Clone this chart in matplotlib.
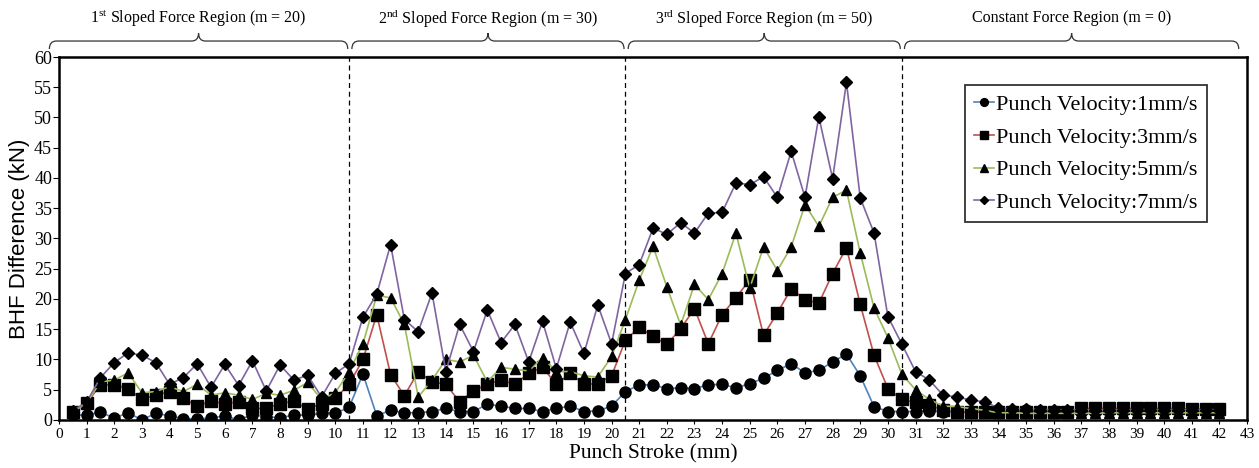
# -*- coding: utf-8 -*-
import matplotlib
matplotlib.use('Agg')
import matplotlib.pyplot as plt
import matplotlib.transforms as mtransforms
from matplotlib.path import Path
from matplotlib.patches import PathPatch
import numpy as np

plt.rcParams['font.family'] = ['Liberation Serif', 'DejaVu Serif']
plt.rcParams['mathtext.fontset'] = 'custom'
plt.rcParams['mathtext.rm'] = 'Liberation Serif'

# punch stroke (mm), sampled every 0.5 mm
stroke = np.arange(0.5, 42.01, 0.5)

v1 = [0.8, 0.8, 1.3, 0.3, 1.2, 0.0, 1.1, 0.7, 0.2, 0.2, 0.3, 0.7, 0.0, 0.9, 0.5, 0.4, 0.8, 0.8, 1.1, 1.1, 2.1,
      7.6, 0.7, 1.6, 1.2, 1.2, 1.4, 1.9, 1.4, 1.4, 2.6, 2.3, 1.9, 1.9, 1.4, 1.9, 2.3, 1.4, 1.5, 2.3, 4.7,
      5.8, 5.8, 5.2, 5.3, 5.2, 5.8, 5.9, 5.3, 6.0, 6.9, 8.2, 9.3, 7.8, 8.2, 9.6, 10.9, 7.3, 2.2, 1.4, 1.4,
      1.4, 1.5, 1.4, 1.3, 1.3, 1.3, 1.4, 1.5, 1.6, 1.5, 1.4, 1.4, 1.4, 1.4, 1.5, 1.5, 1.5, 1.5, 1.5, 1.7,
      1.5, 1.4, 1.4]
v3 = [1.3, 2.8, 5.8, 5.8, 5.2, 3.4, 4.1, 4.7, 3.6, 2.3, 3.1, 2.7, 3.0, 1.9, 1.9, 2.7, 3.1, 1.8, 2.7, 3.6, 5.9,
      10.0, 17.4, 7.5, 4.0, 8.0, 6.3, 5.9, 3.0, 4.8, 5.9, 6.6, 5.9, 7.7, 8.7, 5.9, 7.7, 5.9, 6.0, 7.3, 13.2,
      15.3, 13.8, 12.5, 15.1, 18.4, 12.6, 17.4, 20.2, 23.2, 14.0, 17.7, 21.7, 19.9, 19.3, 24.2, 28.5, 19.1,
      10.7, 5.2, 3.4,
      2.9, 2.5, 1.6, 1.3, 1.3, 1.3, 1.3, 1.4, 1.4, 1.4, 1.4, 1.4, 1.9, 1.9, 1.9, 1.9, 1.9, 1.9, 1.9, 1.9,
      1.8, 1.8, 1.8]
v5 = [1.3, 2.8, 6.3, 6.6, 7.8, 4.5, 4.7, 5.5, 4.7, 5.9, 4.1, 4.5, 4.1, 3.4, 4.4, 4.1, 4.9, 6.2, 3.4, 4.5, 8.0,
      12.6, 20.6, 20.2, 15.8, 3.8, 6.6, 10.0, 9.6, 10.7, 6.3, 8.7, 8.4, 8.1, 10.3, 8.0, 8.0, 7.3, 7.1, 10.5,
      16.6,
      23.1, 28.7, 22.0, 15.7, 22.4, 19.9, 24.2, 30.9, 21.8, 28.6, 24.7, 28.6, 35.6, 32.0, 36.8, 38.0, 27.6,
      18.5, 13.6, 7.6,
      5.0, 3.4, 2.3, 2.2, 1.9, 1.6, 1.2, 1.2, 1.1, 1.1, 1.1, 1.1, 1.1, 1.1, 1.2, 1.2, 1.2, 1.2, 1.2, 1.2,
      1.2, 1.2, 1.2]
v7 = [1.5, 3.0, 7.0, 9.5, 11.1, 10.7, 9.5, 5.9, 7.0, 9.3, 5.4, 9.2, 5.7, 9.8, 4.8, 9.1, 6.6, 7.4, 3.8, 7.7, 9.3,
      17.0, 20.8, 29.0, 16.6, 14.6, 21.0, 8.0, 15.8, 11.3, 18.2, 12.8, 15.8, 9.6, 16.3, 8.5, 16.2, 11.0, 19.0,
      12.6, 24.2,
      25.7, 31.7, 30.7, 32.6, 30.9, 34.2, 34.3, 39.2, 38.9, 40.2, 36.8, 44.4, 36.8, 50.1, 39.9, 55.8, 36.7,
      30.9, 17.1, 12.6,
      8.0, 6.6, 4.1, 3.8, 3.3, 3.0, 2.0, 1.8, 1.8, 1.7, 1.7, 1.7, 1.7, 1.7, 1.7, 1.7, 1.7, 1.7, 1.7, 1.7,
      1.7, 1.7, 1.7]

labels = ['Punch Velocity:1mm/s', 'Punch Velocity:3mm/s',
          'Punch Velocity:5mm/s', 'Punch Velocity:7mm/s']
region_bounds = [10.5, 20.5, 30.5]
region_texts = [r'1$^{\rm st}$ Sloped Force Region (m = 20)',
                r'2$^{\rm nd}$ Sloped Force Region (m = 30)',
                r'3$^{\rm rd}$ Sloped Force Region (m = 50)',
                'Constant Force Region (m = 0)']
brace_spans = [(-0.35, 10.45), (10.6, 20.45), (20.6, 30.45), (30.6, 42.7)]


def draw_brace(ax, x0, x1):
    # curly brace above the axes, x in data units, y in axes fraction
    trans = mtransforms.blended_transform_factory(ax.transData, ax.transAxes)
    yl, ye, yt = 1.044, 1.022, 1.066
    xm = (x0 + x1) / 2
    r = 0.25
    verts = [(x0, ye), (x0, yl), (x0 + r, yl),
             (xm - r, yl), (xm, yl), (xm, yt),
             (xm, yl), (xm + r, yl),
             (x1 - r, yl), (x1, yl), (x1, ye)]
    codes = [Path.MOVETO, Path.CURVE3, Path.CURVE3,
             Path.LINETO, Path.CURVE3, Path.CURVE3,
             Path.CURVE3, Path.CURVE3,
             Path.LINETO, Path.CURVE3, Path.CURVE3]
    ax.add_patch(PathPatch(Path(verts, codes), transform=trans, fill=False,
                           lw=0.9, color='#333333', clip_on=False))


fig = plt.figure(figsize=(12.59, 4.68), dpi=100)
ax = fig.add_axes([0.0469, 0.1026, 0.9436, 0.7756])

ax.plot(stroke, v1, color='#4f81bd', lw=1.2, marker='o', ms=8,
        mfc='black', mec='black', label=labels[0])
ax.plot(stroke, v3, color='#c0504d', lw=1.2, marker='s', ms=8,
        mfc='black', mec='black', label=labels[1])
ax.plot(stroke, v5, color='#9bbb59', lw=1.2, marker='^', ms=7.5,
        mfc='black', mec='black', label=labels[2])
ax.plot(stroke, v7, color='#8064a2', lw=1.2, marker='D', ms=6,
        mfc='black', mec='black', label=labels[3])

for xb in region_bounds:
    ax.axvline(xb, color='black', lw=0.9, ls=(0, (4, 3)))

for (x0, x1), txt in zip(brace_spans, region_texts):
    draw_brace(ax, x0, x1)
    ax.text((x0 + x1) / 2, 1.107, txt, transform=mtransforms.blended_transform_factory(ax.transData, ax.transAxes),
            ha='center', va='center', fontsize=11.5)

ax.set_xlim(0, 43)
ax.set_ylim(0, 60)
ax.set_xticks(np.arange(0, 44, 1))
ax.set_yticks(np.arange(0, 61, 5))
ax.tick_params(axis='x', labelsize=11, direction='out', length=3, pad=3)
ax.tick_params(axis='y', labelsize=13, direction='out', length=4, pad=1)
for s in ax.spines.values():
    s.set_linewidth(1.8)

ax.set_xlabel('Punch Stroke (mm)', fontsize=15.5, labelpad=2)
ax.set_ylabel('BHF Difference (kN)', fontsize=16, family='Liberation Sans', labelpad=3)

leg = ax.legend(loc='upper right', bbox_to_anchor=(0.966, 0.922), fontsize=16,
                frameon=True, fancybox=False, edgecolor='black', handlelength=0.9,
                handletextpad=0.1, borderpad=0.4, labelspacing=0.55, markerscale=0.7,
                borderaxespad=0)
leg.get_frame().set_linewidth(1.3)

fig.savefig('out.png', dpi=100)
